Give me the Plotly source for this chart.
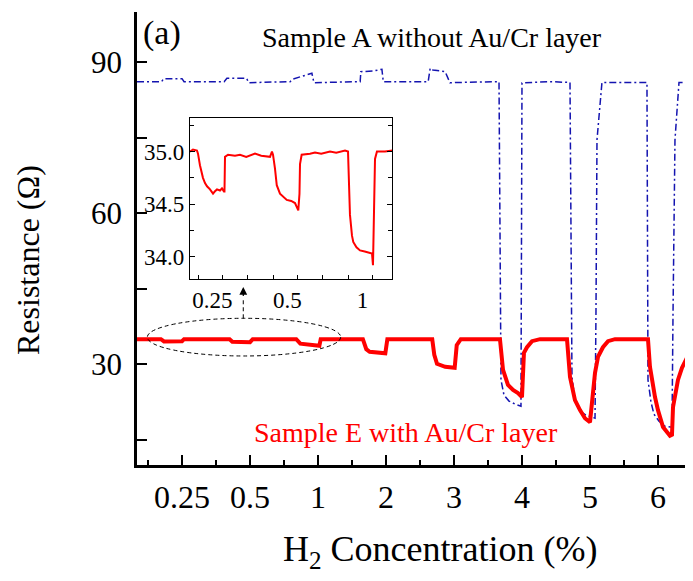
import plotly.graph_objects as go

# ---------------- data ----------------
conc_labels = ["0.25", "0.5", "1", "2", "3", "4", "5", "6"]
conc_pos = [1, 2, 3, 4, 5, 6, 7, 8]

# Sample A (without Au/Cr layer) - blue dash-dot
sampleA_x = [0.338, 0.70, 0.73, 1.00, 1.03, 1.62, 1.66, 1.95, 1.98, 2.59, 2.62, 2.91, 2.94,
             3.62, 3.63, 3.81, 3.94, 3.96, 4.62, 4.65, 4.69, 4.79, 4.87, 4.94,
             5.662, 5.691, 5.735, 5.809, 5.897, 5.985, 6.00, 6.41, 6.706,
             6.735, 6.779, 6.838, 6.941, 7.029, 7.074, 7.088, 7.103, 7.176,
             7.838, 7.853, 7.868, 7.897, 7.941, 8.015, 8.103, 8.206, 8.221, 8.250, 8.309, 8.515]
sampleA_y = [86.16, 86.16, 86.75, 86.75, 86.16, 86.16, 86.83, 86.83, 85.96, 86.16, 86.63, 87.83, 85.96,
             86.16, 88.15, 88.28, 88.62, 86.16, 86.16, 88.82, 88.48, 88.34, 88.15, 85.96,
             86.16, 26.9, 23.9, 22.7, 22.1, 21.7, 85.9, 86.16, 86.0,
             27.5, 22.9, 20.9, 19.9, 19.5, 19.3, 40.0, 74.6, 86.0,
             86.0, 26.9, 24.9, 22.5, 20.1, 18.7, 17.7, 17.5, 40.0, 74.6, 86.0, 86.0]

# Sample E (with Au/Cr layer) - red
sampleE_x = [0.338, 0.69, 0.735, 1.00, 1.03, 1.70, 1.74, 2.00, 2.04, 2.68, 2.74, 2.99, 3.02, 3.04,
             3.66, 3.71, 3.76, 3.99, 4.02,
             4.68, 4.71, 4.75, 4.87, 5.01, 5.04, 5.10,
             5.676, 5.721, 5.794, 5.868, 5.941, 6.00, 6.029, 6.074, 6.147, 6.265,
             6.662, 6.706, 6.779, 6.853, 6.926, 7.00, 7.029, 7.074, 7.118, 7.191, 7.265, 7.368,
             7.853, 7.882, 7.956, 8.00, 8.074, 8.132, 8.176, 8.206, 8.221, 8.294, 8.353, 8.426, 8.485, 8.515]
sampleE_y = [35.0, 35.0, 34.55, 34.6, 35.0, 35.0, 34.5, 34.4, 35.0, 35.0, 34.1, 33.9, 33.7, 35.0,
             35.0, 33.0, 32.5, 32.2, 35.0,
             35.0, 31.9, 30.1, 29.5, 29.3, 33.8, 35.0,
             35.0, 28.9, 25.9, 24.9, 24.3, 23.5, 32.3, 33.4, 34.6, 35.0,
             35.0, 27.5, 22.9, 20.9, 19.3, 18.5, 22.9, 28.3, 31.5, 33.4, 34.6, 35.0,
             35.0, 29.5, 23.5, 20.9, 17.55, 16.4, 15.8, 16.0, 21.5, 26.9, 29.3, 31.3, 33.0, 34.6]

# Inset: Sample E at 0.25, 0.5 and 1 %
inset_labels = ["0.25", "0.5", "1"]
inset_label_pos = [1, 2, 3]
inset_x = [0.700, 0.740, 0.793, 0.807, 0.833, 0.873, 0.900, 0.927, 0.967, 1.007, 1.030, 1.060,
           1.100, 1.127, 1.153, 1.160, 1.167, 1.207, 1.300, 1.367, 1.450, 1.567, 1.650, 1.767,
           1.793, 1.807, 1.833, 1.857, 1.900, 1.990, 2.050, 2.100, 2.144, 2.160, 2.167, 2.189,
           2.300, 2.367, 2.450, 2.567, 2.650, 2.767, 2.807, 2.833, 2.860, 2.877, 2.920, 2.967,
           3.030, 3.100, 3.127, 3.140, 3.160, 3.167, 3.193, 3.300, 3.400]
inset_y = [35.00, 35.02, 35.01, 34.98, 34.87, 34.75, 34.70, 34.67, 34.64, 34.60, 34.62, 34.64,
           34.63, 34.65, 34.62, 34.62, 34.95, 34.97, 34.96, 34.97, 34.95, 34.98, 34.96, 34.95,
           35.00, 34.97, 34.84, 34.68, 34.60, 34.54, 34.53, 34.51, 34.44, 34.60, 34.88, 34.97,
           34.98, 34.99, 34.98, 35.00, 34.99, 35.01, 35.00, 34.40, 34.20, 34.14, 34.09, 34.06,
           34.05, 34.04, 34.03, 33.92, 34.50, 34.93, 35.00, 35.00, 35.01]
inset_minor_ticks = [0.807, 1.140, 1.473, 1.807, 2.140, 2.473, 2.807, 3.140]

FONT = "Liberation Serif, Times New Roman, serif"

fig = go.Figure()

fig.add_trace(go.Scatter(x=sampleA_x, y=sampleA_y, mode="lines",
                         line=dict(color="#1414b0", width=1.5, dash="7px,3px,2px,3px"),
                         name="Sample A", showlegend=False))
fig.add_trace(go.Scatter(x=sampleE_x, y=sampleE_y, mode="lines",
                         line=dict(color="#ff0000", width=4),
                         name="Sample E", showlegend=False))
fig.add_trace(go.Scatter(x=inset_x, y=inset_y, mode="lines", xaxis="x2", yaxis="y2",
                         line=dict(color="#ff0000", width=2),
                         name="Sample E inset", showlegend=False))

# the page body adds an 8px offset, so the figure is 8px smaller to fit the window
fig.update_layout(
    template="none",
    width=685, height=573,
    margin=dict(l=129, r=0, t=4, b=116, pad=0),
    paper_bgcolor="white", plot_bgcolor="white",
    font=dict(family=FONT, color="black"),
    xaxis=dict(
        automargin=False,
        range=[0.338, 8.515], tickmode="array", tickvals=conc_pos, ticktext=conc_labels,
        ticks="inside", ticklen=10, tickwidth=2, tickcolor="black",
        showline=True, linewidth=2.5, linecolor="black", showgrid=False, zeroline=False,
        tickfont=dict(size=32, family=FONT), ticklabelstandoff=2,
        minor=dict(tickmode="linear", tick0=0.5, dtick=1, ticks="inside", ticklen=5,
                   tickwidth=2, tickcolor="black", showgrid=False),
    ),
    xaxis3=dict(
        automargin=False,
        range=[0.338, 8.515], overlaying="x", side="top", anchor="y",
        tickmode="linear", tick0=0.5, dtick=0.5, ticks="inside", ticklen=3,
        tickwidth=1, tickcolor="#999999", showticklabels=False,
        showline=True, linewidth=2.5, linecolor="black", showgrid=False, zeroline=False,
    ),
    yaxis=dict(
        automargin=False,
        range=[10, 100], tickmode="linear", tick0=0, dtick=30,
        ticks="inside", ticklen=10, tickwidth=2, tickcolor="black",
        showline=True, linewidth=2.5, linecolor="black", showgrid=False, zeroline=False,
        tickfont=dict(size=31, family=FONT), ticklabelstandoff=6,
        minor=dict(tickmode="linear", tick0=15, dtick=15, ticks="inside", ticklen=10,
                   tickwidth=2, tickcolor="black", showgrid=False),
    ),
    xaxis2=dict(
        automargin=False,
        domain=[0.0953, 0.4595], anchor="y2", range=[0.70, 3.40],
        tickmode="array", tickvals=inset_label_pos, ticktext=inset_labels,
        ticks="inside", ticklen=0, showline=True, mirror=True, linewidth=1.2, linecolor="black",
        showgrid=False, zeroline=False, tickfont=dict(size=23, family=FONT),
        minor=dict(tickmode="array", tickvals=inset_minor_ticks, ticks="inside", ticklen=4,
                   tickwidth=1, tickcolor="black", showgrid=False),
    ),
    yaxis2=dict(
        automargin=False,
        domain=[0.4106, 0.7671], anchor="x2", range=[33.788, 35.324],
        tickmode="array", tickvals=[34.0, 34.5, 35.0], ticktext=["34.0", "34.5", "35.0"],
        ticks="inside", ticklen=5, tickwidth=1, tickcolor="black",
        showline=True, mirror="ticks", linewidth=1.2, linecolor="black",
        showgrid=False, zeroline=False, tickfont=dict(size=23, family=FONT),
        minor=dict(tickmode="linear", tick0=33.75, dtick=0.25, ticks="inside", ticklen=4,
                   tickwidth=1, tickcolor="black", showgrid=False),
    ),
)

# dashed ellipse around the low-concentration region
fig.add_shape(type="circle", xref="x", yref="y", x0=0.490, x1=3.334, y0=31.66, y1=39.15,
              line=dict(color="black", width=1, dash="4px,3px"))
# dashed connector towards the inset
fig.add_shape(type="line", xref="x", yref="y", x0=1.901, x1=1.901, y0=39.15, y1=43.3,
              line=dict(color="black", width=1, dash="4px,3px"))
fig.add_annotation(x=1.901, y=45.37, ax=1.901, ay=43.3, xref="x", yref="y", axref="x", ayref="y",
                   text="", showarrow=True, arrowhead=2, arrowsize=1.3, arrowwidth=1.2,
                   arrowcolor="black", standoff=0)

# texts (positions given relative to the plot area spanning x 137..693, y 12..465 on the page)
fig.add_annotation(text="(a)", xref="paper", yref="paper", x=(141 - 137) / 556, y=(465 - 33) / 453,
                   xanchor="left", yanchor="middle", showarrow=False,
                   font=dict(size=34, family=FONT, color="black"))
fig.add_annotation(text="Sample A without Au/Cr layer", xref="paper", yref="paper",
                   x=(431.5 - 137) / 556, y=(465 - 38) / 453, xanchor="center", yanchor="middle",
                   showarrow=False, font=dict(size=28, family=FONT, color="black"))
fig.add_annotation(text="Sample E with Au/Cr layer", xref="paper", yref="paper",
                   x=(405.8 - 137) / 556, y=(465 - 432) / 453, xanchor="center", yanchor="middle",
                   showarrow=False, font=dict(size=28, family=FONT, color="#ff0000"))
fig.add_annotation(text="Resistance (Ω)", xref="paper", yref="paper",
                   x=(28 - 137) / 556, y=(465 - 260) / 453, xanchor="center", yanchor="middle",
                   textangle=-90, showarrow=False, font=dict(size=32, family=FONT, color="black"))
fig.add_annotation(text="H<sub>2</sub> Concentration (%)", xref="paper", yref="paper",
                   x=(440 - 137) / 556, y=(465 - 551) / 453, xanchor="center", yanchor="middle",
                   showarrow=False, font=dict(size=36, family=FONT, color="black"))

fig.write_html("out.html")
